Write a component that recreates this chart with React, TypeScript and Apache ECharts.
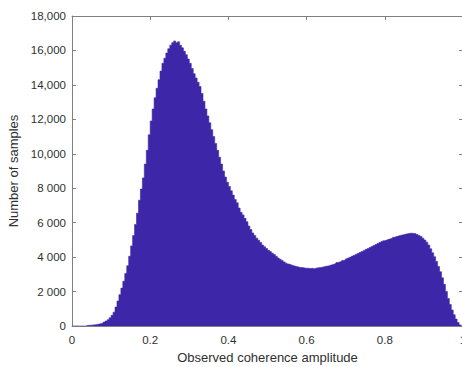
import React, { useEffect, useRef } from "react";
import * as echarts from "echarts";

// Histogram bins: left edge = binStart + i * binWidth
const binStart = 0;
const binWidth = 0.005;
const counts = [
  0, 0, 0, 0, 0, 0, 0, 30, 40, 50,
  60, 70, 90, 110, 140, 180, 230, 290, 370, 480,
  620, 800, 1100, 1450, 1820, 2200, 2600, 3050, 3500, 4050,
  4650, 5250, 5900, 6550, 7300, 7950, 8600, 9400, 10200, 11100,
  11900, 12600, 13250, 13800, 14300, 14800, 15250, 15550, 15850, 16100,
  16300, 16450, 16550, 16450, 16500, 16300, 16150, 15950, 15750, 15500,
  15250, 14950, 14650, 14400, 14150, 13900, 13500, 13050, 12600, 12200,
  11800, 11400, 11000, 10600, 10200, 9800, 9400, 9000, 8650, 8350,
  8100, 7850, 7600, 7350, 7150, 6850, 6600, 6450, 6250, 6050,
  5800, 5600, 5400, 5250, 5100, 4980, 4850, 4700, 4600, 4500,
  4400, 4320, 4230, 4150, 4050, 3950, 3870, 3800, 3720, 3650,
  3600, 3560, 3520, 3480, 3450, 3420, 3400, 3390, 3370, 3360,
  3350, 3340, 3350, 3330, 3360, 3380, 3390, 3410, 3440, 3470,
  3480, 3520, 3550, 3590, 3630, 3680, 3720, 3760, 3810, 3850,
  3900, 3950, 4000, 4060, 4110, 4170, 4220, 4280, 4330, 4390,
  4450, 4500, 4560, 4620, 4680, 4730, 4790, 4850, 4900, 4950,
  4990, 5030, 5070, 5100, 5150, 5190, 5220, 5260, 5280, 5310,
  5340, 5360, 5380, 5390, 5370, 5360, 5310, 5260, 5200, 5100,
  4990, 4870, 4700, 4480, 4250, 4020, 3750, 3450, 3150, 2800,
  2420, 2000, 1600, 1250, 930, 650, 400, 200, 60, 0,
];

const xTickLabels = ["0", "0.2", "0.4", "0.6", "0.8", "1"];
const xTickStep = 0.2;
const yTickLabels = [
  "0", "2 000", "4 000", "6 000", "8 000",
  "10,000", "12,000", "14,000", "16,000", "18,000",
];
const yTickStep = 2000;
const xAxisName = "Observed coherence amplitude";
const yAxisName = "Number of samples";

const BAR_COLOR = "#3E26A8";
const AXIS_COLOR = "#808080";
const TEXT_COLOR = "#303030";
const FONT = "Liberation Sans";

export default function App() {
  const ref = useRef<HTMLDivElement>(null);

  useEffect(() => {
    document.body.style.margin = "0";
    document.body.style.overflow = "hidden";
    if (!ref.current) return;
    const chart = echarts.init(ref.current, undefined, { renderer: "svg" });

    const points: number[][] = counts.map((c, i) => [
      +(binStart + i * binWidth).toFixed(4),
      c,
    ]);
    points.push([+(binStart + counts.length * binWidth).toFixed(4), 0]);

    const xMax = (xTickLabels.length - 1) * xTickStep;
    const yMax = (yTickLabels.length - 1) * yTickStep;

    const tick = { show: true, inside: true, length: 4, lineStyle: { color: AXIS_COLOR, width: 1 } };
    const line = { show: true, onZero: false, lineStyle: { color: AXIS_COLOR, width: 1 } };

    chart.setOption({
      animation: false,
      backgroundColor: "#ffffff",
      grid: {
        left: 72,
        right: -1,
        top: 16,
        bottom: 41,
        containLabel: false,
        outerBoundsMode: "none",
      },
      xAxis: [
        {
          type: "value",
          min: 0,
          max: xMax,
          interval: xTickStep,
          position: "bottom",
          axisLine: line,
          axisTick: tick,
          splitLine: { show: false },
          axisLabel: {
            margin: 8,
            color: TEXT_COLOR,
            fontFamily: FONT,
            fontSize: 11.5,
            formatter: (v: number) => xTickLabels[Math.round(v / xTickStep)] ?? "",
          },
          name: xAxisName,
          nameLocation: "middle",
          nameGap: 24,
          nameTextStyle: { color: TEXT_COLOR, fontFamily: FONT, fontSize: 13 },
        },
        {
          type: "value",
          min: 0,
          max: xMax,
          interval: xTickStep,
          position: "top",
          axisLine: line,
          axisTick: tick,
          splitLine: { show: false },
          axisLabel: { show: false },
        },
      ],
      yAxis: [
        {
          type: "value",
          min: 0,
          max: yMax,
          interval: yTickStep,
          position: "left",
          axisLine: line,
          axisTick: tick,
          splitLine: { show: false },
          axisLabel: {
            margin: 6,
            color: TEXT_COLOR,
            fontFamily: FONT,
            fontSize: 11.5,
            formatter: (v: number) => yTickLabels[Math.round(v / yTickStep)] ?? "",
          },
          name: yAxisName,
          nameLocation: "middle",
          nameGap: 43,
          nameTextStyle: { color: TEXT_COLOR, fontFamily: FONT, fontSize: 13 },
        },
        {
          type: "value",
          min: 0,
          max: yMax,
          interval: yTickStep,
          position: "right",
          axisLine: line,
          axisTick: tick,
          splitLine: { show: false },
          axisLabel: { show: false },
        },
      ],
      series: [
        {
          type: "line",
          xAxisIndex: 0,
          yAxisIndex: 0,
          data: points,
          step: "end",
          symbol: "none",
          lineStyle: { color: BAR_COLOR, width: 0.6 },
          areaStyle: { color: BAR_COLOR, opacity: 1 },
          z: 1,
        },
      ],
    });

    return () => chart.dispose();
  }, []);

  return (
    <div
      ref={ref}
      style={{ position: "absolute", left: 0, top: 0, width: 462, height: 367 }}
    />
  );
}
